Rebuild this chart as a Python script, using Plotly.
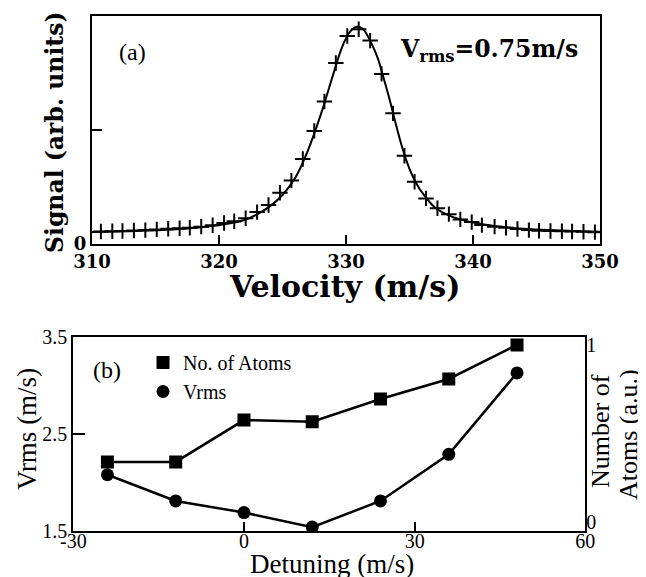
import plotly.graph_objects as go

# ---------------- Panel (a) data ----------------
velocity = [310.7, 311.6, 312.4, 313.3, 314.2, 315.1, 316.0, 316.9, 317.7, 318.6,
            319.5, 320.4, 321.2, 322.1, 323.0, 323.9, 324.8, 325.7, 326.6, 327.5,
            328.3, 329.2, 330.1, 331.0, 331.9, 332.8, 333.7, 334.6, 335.4, 336.3,
            337.2, 338.1, 339.0, 339.9, 340.7, 341.7, 342.6, 343.5, 344.4, 345.2,
            346.1, 347.0, 347.8, 348.7, 349.6]
signal = [0.055, 0.056, 0.057, 0.059, 0.061, 0.064, 0.067, 0.069, 0.071, 0.076,
          0.082, 0.092, 0.100, 0.113, 0.140, 0.171, 0.225, 0.278, 0.373, 0.496,
          0.625, 0.794, 0.912, 0.942, 0.892, 0.746, 0.573, 0.387, 0.273, 0.200,
          0.157, 0.131, 0.108, 0.096, 0.083, 0.076, 0.071, 0.066, 0.061, 0.058,
          0.057, 0.056, 0.055, 0.054, 0.052]

fit_velocity = [310, 312, 314, 316, 318, 320, 321, 322, 323, 324, 325, 326, 327, 328,
                329, 329.7, 330.3, 330.8, 331.3, 332, 332.5, 333, 333.5, 334, 334.5,
                335, 335.5, 336, 337, 338, 339, 340, 342, 344, 346, 348, 350]
fit_signal = [0.053, 0.055, 0.058, 0.063, 0.070, 0.083, 0.092, 0.105, 0.130, 0.165,
              0.215, 0.290, 0.410, 0.565, 0.745, 0.865, 0.930, 0.952, 0.945, 0.880,
              0.815, 0.720, 0.620, 0.510, 0.410, 0.330, 0.270, 0.225, 0.160, 0.128,
              0.108, 0.094, 0.077, 0.067, 0.061, 0.057, 0.054]

# ---------------- Panel (b) data ----------------
detuning = [-24, -12, 0, 12, 24, 36, 48]
vrms = [2.08, 1.81, 1.69, 1.54, 1.81, 2.29, 3.13]
atoms = [0.34, 0.34, 0.576, 0.567, 0.695, 0.808, 1.0]

top_x_ticks = [310, 320, 330, 340, 350]
top_y_ticks = [0, 0.5, 1]
top_y_text = ["0", "", "1"]
bot_x_ticks = [-30, 0, 30, 60]
bot_x_text = ["-30", "0", "30", "60"]
bot_y_ticks = [1.5, 2.5, 3.5]
bot_y2_ticks = [0, 1]

W, H = 646, 577
OFF = 8  # the page body adds an 8 px margin; compensate so marks land in place
def px(x):
    return (x - OFF) / W
def py(y):
    return 1 - (y - OFF) / H

BOLD = dict(family="DejaVu Serif", weight="bold", color="black")
TIMES = "Liberation Serif"

fig = go.Figure()

# panel (a)
fig.add_trace(go.Scatter(x=fit_velocity, y=fit_signal, mode="lines",
                         line=dict(color="black", width=2, shape="spline"),
                         showlegend=False, xaxis="x", yaxis="y"))
fig.add_trace(go.Scatter(x=velocity, y=signal, mode="markers",
                         marker=dict(symbol="cross-thin", size=11,
                                     line=dict(color="black", width=2)),
                         showlegend=False, xaxis="x", yaxis="y"))

# panel (b)
fig.add_trace(go.Scatter(x=detuning, y=atoms, mode="lines",
                         line=dict(color="black", width=2.5),
                         showlegend=False, xaxis="x2", yaxis="y3"))
fig.add_trace(go.Scatter(x=detuning, y=vrms, mode="lines",
                         line=dict(color="black", width=2.5),
                         showlegend=False, xaxis="x2", yaxis="y2"))
fig.add_trace(go.Scatter(x=detuning, y=atoms, mode="markers", name="No. of Atoms",
                         marker=dict(symbol="square", size=13, color="black"),
                         xaxis="x2", yaxis="y3"))
fig.add_trace(go.Scatter(x=detuning, y=vrms, mode="markers", name="Vrms",
                         marker=dict(symbol="circle", size=13, color="black"),
                         xaxis="x2", yaxis="y2"))

axis_common = dict(showline=True, linecolor="black", linewidth=2, mirror=True,
                   showgrid=False, zeroline=False, ticks="inside",
                   tickcolor="black", tickwidth=2, automargin=False)

fig.update_layout(
    width=W, height=H,
    margin=dict(l=0, r=0, t=0, b=0, autoexpand=False),
    paper_bgcolor="white", plot_bgcolor="white",
    showlegend=True,
    legend=dict(x=px(143), y=py(343), xanchor="left", yanchor="top",
                font=dict(family=TIMES, size=20, color="black"),
                bgcolor="rgba(0,0,0,0)", itemwidth=30, tracegroupgap=0),
    xaxis=dict(axis_common, domain=[px(92), px(600)], range=[310, 350],
               tickvals=top_x_ticks, ticklen=9, anchor="y",
               tickfont=dict(BOLD, size=18)),
    yaxis=dict(axis_common, domain=[py(244), py(16)], range=[0, 1],
               tickvals=top_y_ticks, ticktext=top_y_text, ticklen=10, anchor="x",
               tickfont=dict(BOLD, size=18)),
    xaxis2=dict(axis_common, domain=[px(73.3), px(585.3)], range=[-30, 60],
                tickvals=bot_x_ticks, ticktext=bot_x_text, ticklen=9, anchor="y2",
                ticklabelstandoff=-9,
                tickfont=dict(family=TIMES, size=20, color="black")),
    yaxis2=dict(axis_common, domain=[py(531), py(337)], range=[1.5, 3.5],
                tickvals=bot_y_ticks, ticklen=12, anchor="x2",
                tickfont=dict(family=TIMES, size=20, color="black")),
    yaxis3=dict(overlaying="y2", side="right", anchor="x2", range=[-0.05, 1.045],
                tickvals=bot_y2_ticks, ticks="", showline=False, showgrid=False,
                zeroline=False, automargin=False,
                tickfont=dict(family=TIMES, size=20, color="black")),
)

ann = [
    dict(text="(a)", x=px(132), y=py(52), font=dict(family=TIMES, size=24)),
    dict(text="V<sub>rms</sub>=0.75m/s", x=px(489), y=py(50),
         font=dict(BOLD, size=23.5)),
    dict(text="Velocity (m/s)", x=px(344), y=py(287), font=dict(BOLD, size=30)),
    dict(text="Signal (arb. units)", x=px(55), y=py(132), textangle=-90,
         font=dict(BOLD, size=23.5)),
    dict(text="(b)", x=px(107), y=py(370), font=dict(family=TIMES, size=24)),
    dict(text="Vrms (m/s)", x=px(27), y=py(429), textangle=-90,
         font=dict(family=TIMES, size=27)),
    dict(text="Detuning (m/s)", x=px(332), y=py(564),
         font=dict(family=TIMES, size=27)),
    dict(text="Number of", x=px(600), y=py(431), textangle=-90,
         font=dict(family=TIMES, size=26)),
    dict(text="Atoms (a.u.)", x=px(628), y=py(435), textangle=-90,
         font=dict(family=TIMES, size=26)),
]
for a in ann:
    a.setdefault("xref", "paper")
    a.setdefault("yref", "paper")
    a.setdefault("showarrow", False)
    a.setdefault("xanchor", "center")
    a.setdefault("yanchor", "middle")
    a["font"] = dict(a["font"], color="black")
    fig.add_annotation(**a)

fig.write_html("out.html")
